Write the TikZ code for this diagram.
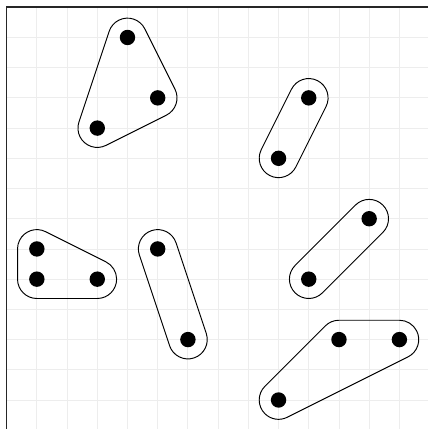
\documentclass[tikz,border=0pt]{standalone}
\usetikzlibrary{calc}
\tikzset{
  dot/.style={circle,fill=black,draw=none,inner sep=0pt,minimum size=0.51cm},
  hull/.style={draw=black,line width=0.9pt,line join=round},
  gridline/.style={draw=black!7,line width=0.8pt},
  frameline/.style={draw=black!85,line width=1.5pt}
}
\def\hr{0.64}
\begin{document}
\begin{tikzpicture}[x=1cm,y=1cm]
\useasboundingbox (-0.22,0.24) rectangle (13.95,-13.96);
% grid
\draw[gridline] (0,-13.96) grid (13.95,0);
% frame (left and top)
\coordinate (tl) at (0,0);
\coordinate (tr) at (13.95,0);
\coordinate (bl) at (0,-13.96);
\draw[frameline] (bl) -- (tl) -- (tr);
% dots
\node[dot] (a1) at (4,-1) {};
\node[dot] (a2) at (5,-3) {};
\node[dot] (a3) at (3,-4) {};
\node[dot] (b1) at (10,-3) {};
\node[dot] (b2) at (9,-5) {};
\node[dot] (c1) at (1,-8) {};
\node[dot] (c2) at (1,-9) {};
\node[dot] (c3) at (3,-9) {};
\node[dot] (d1) at (5,-8) {};
\node[dot] (d2) at (6,-11) {};
\node[dot] (e1) at (12,-7) {};
\node[dot] (e2) at (10,-9) {};
\node[dot] (f1) at (11,-11) {};
\node[dot] (f2) at (13,-11) {};
\node[dot] (f3) at (9,-13) {};
% hull 1 (a1, a3, a2 counterclockwise)
\draw[hull] ($(a1.center)+(161.565:\hr)$) -- ($(a3.center)+(161.565:\hr)$)
  arc[start angle=161.565,end angle=296.565,radius=\hr]
  -- ($(a2.center)+(296.565:\hr)$)
  arc[start angle=296.565,end angle=386.565,radius=\hr]
  -- ($(a1.center)+(26.565:\hr)$)
  arc[start angle=26.565,end angle=161.565,radius=\hr] -- cycle;
% hull 2 (b1 -> b2)
\draw[hull] ($(b1.center)+(153.435:\hr)$) -- ($(b2.center)+(153.435:\hr)$)
  arc[start angle=153.435,end angle=333.435,radius=\hr]
  -- ($(b1.center)+(333.435:\hr)$)
  arc[start angle=333.435,end angle=513.435,radius=\hr] -- cycle;
% hull 3 (c1, c2, c3)
\draw[hull] ($(c1.center)+(180:\hr)$) -- ($(c2.center)+(180:\hr)$)
  arc[start angle=180,end angle=270,radius=\hr]
  -- ($(c3.center)+(270:\hr)$)
  arc[start angle=270,end angle=423.435,radius=\hr]
  -- ($(c1.center)+(63.435:\hr)$)
  arc[start angle=63.435,end angle=180,radius=\hr] -- cycle;
% hull 4 (d1 -> d2)
\draw[hull] ($(d1.center)+(198.435:\hr)$) -- ($(d2.center)+(198.435:\hr)$)
  arc[start angle=198.435,end angle=378.435,radius=\hr]
  -- ($(d1.center)+(18.435:\hr)$)
  arc[start angle=18.435,end angle=198.435,radius=\hr] -- cycle;
% hull 5 (e1 -> e2)
\draw[hull] ($(e1.center)+(135:\hr)$) -- ($(e2.center)+(135:\hr)$)
  arc[start angle=135,end angle=315,radius=\hr]
  -- ($(e1.center)+(315:\hr)$)
  arc[start angle=315,end angle=495,radius=\hr] -- cycle;
% hull 6 (f1, f3, f2 counterclockwise)
\draw[hull] ($(f1.center)+(135:\hr)$) -- ($(f3.center)+(135:\hr)$)
  arc[start angle=135,end angle=296.565,radius=\hr]
  -- ($(f2.center)+(296.565:\hr)$)
  arc[start angle=296.565,end angle=450,radius=\hr]
  -- ($(f1.center)+(90:\hr)$)
  arc[start angle=90,end angle=135,radius=\hr] -- cycle;
\end{tikzpicture}
\end{document}
